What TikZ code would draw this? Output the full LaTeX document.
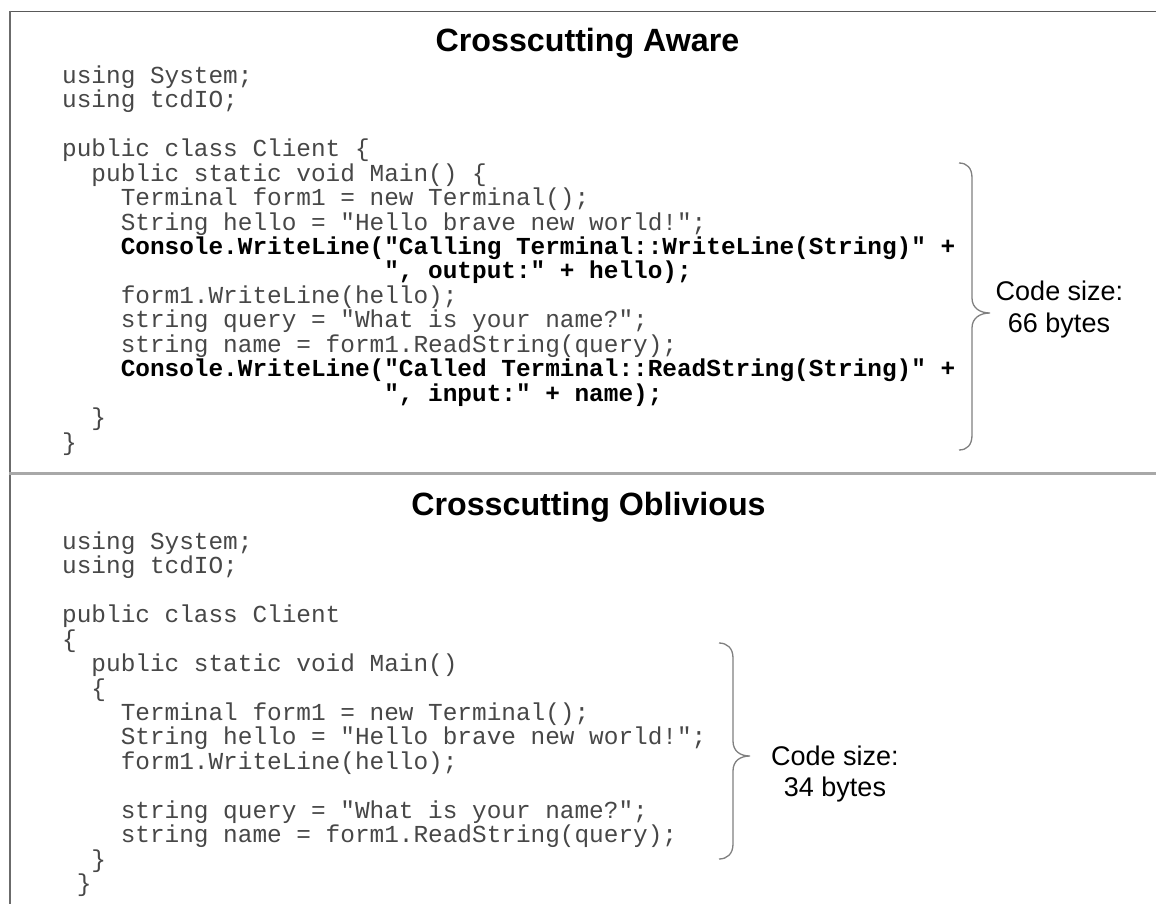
\documentclass[tikz,border=0pt]{standalone}
\usepackage{fontspec}
\setmainfont{Liberation Sans}
\newfontfamily\codefont{Liberation Mono}

% layout constants (pt): left edge of code column, character width, line pitch
\def\cx{62}
\def\colw{14.64}
\def\lp{24.45}
\def\ta{83.3}   % first baseline of the upper listing
\def\ba{549.3}  % first baseline of the lower listing

\tikzset{
  code/.style={anchor=base west, inner sep=0pt, text=black!72,
    font=\codefont\fontsize{24.4}{24.45}\selectfont},
  codeb/.style={code, text=black,
    font=\codefont\bfseries\fontsize{24.4}{24.45}\selectfont},
  heading/.style={anchor=base, inner sep=0pt,
    font=\bfseries\fontsize{32.2}{36}\selectfont},
  sizelabel/.style={anchor=base, inner sep=0pt,
    font=\fontsize{27}{32}\selectfont},
  brace/.style={draw=black!50, line width=1.3pt},
  frame/.style={line width=1.8pt}
}

\begin{document}
\begin{tikzpicture}[x=1pt, y=-1pt]
\useasboundingbox (0,0) rectangle (1156,904);
\fill[white] (0,0) rectangle (1156,904);

% frame and divider
\draw[frame, draw=black!65] (9,11.5) -- (1156,11.5);
\draw[frame, draw=black!58] (9.8,11) -- (9.8,904);
\draw[line width=2.3pt, draw=black!34] (9,473.6) -- (1156,473.6);

% ---------- upper listing ----------
\node[heading] (h1) at (587.5,51.7) {Crosscutting Aware};

\node[code]  (t0)  at ({\cx+0*\colw},{\ta+0*\lp})  {using System;};
\node[code]  (t1)  at ({\cx+0*\colw},{\ta+1*\lp})  {using tcdIO;};
\node[code]  (t3)  at ({\cx+0*\colw},{\ta+3*\lp})  {public class Client \{};
\node[code]  (t4)  at ({\cx+2*\colw},{\ta+4*\lp})  {public static void Main() \{};
\node[code]  (t5)  at ({\cx+4*\colw},{\ta+5*\lp})  {Terminal form1 = new Terminal();};
\node[code]  (t6)  at ({\cx+4*\colw},{\ta+6*\lp})  {String hello = "Hello brave new world!";};
\node[codeb] (t7)  at ({\cx+4*\colw},{\ta+7*\lp})  {Console.WriteLine("Calling Terminal::WriteLine(String)" +};
\node[codeb] (t8)  at ({\cx+22*\colw},{\ta+8*\lp}) {", output:" + hello);};
\node[code]  (t9)  at ({\cx+4*\colw},{\ta+9*\lp})  {form1.WriteLine(hello);};
\node[code]  (t10) at ({\cx+4*\colw},{\ta+10*\lp}) {string query = "What is your name?";};
\node[code]  (t11) at ({\cx+4*\colw},{\ta+11*\lp}) {string name = form1.ReadString(query);};
\node[codeb] (t12) at ({\cx+4*\colw},{\ta+12*\lp}) {Console.WriteLine("Called Terminal::ReadString(String)" +};
\node[codeb] (t13) at ({\cx+22*\colw},{\ta+13*\lp}) {", input:" + name);};
\node[code]  (t14) at ({\cx+2*\colw},{\ta+14*\lp}) {\}};
\node[code]  (t15) at ({\cx+0*\colw},{\ta+15*\lp}) {\}};

% brace and size note
\coordinate (ua) at (959,163);
\coordinate (ub) at (959,450);
\coordinate (ut) at (990,313);
\draw[brace] (ua) .. controls (967,163) and (972,168) .. (972,178)
  -- (972,298) .. controls (972,308) and (980,313) .. (ut)
  .. controls (980,313) and (972,318) .. (972,328)
  -- (972,435) .. controls (972,445) and (967,450) .. (ub);
\node[sizelabel] (us1) at (1059.5,300) {Code size:};
\node[sizelabel] (us2) at (1059,332) {66 bytes};

% ---------- lower listing ----------
\node[heading] (h2) at (588.5,515) {Crosscutting Oblivious};

\node[code] (b0)  at ({\cx+0*\colw},{\ba+0*\lp})  {using System;};
\node[code] (b1)  at ({\cx+0*\colw},{\ba+1*\lp})  {using tcdIO;};
\node[code] (b3)  at ({\cx+0*\colw},{\ba+3*\lp})  {public class Client};
\node[code] (b4)  at ({\cx+0*\colw},{\ba+4*\lp})  {\{};
\node[code] (b5)  at ({\cx+2*\colw},{\ba+5*\lp})  {public static void Main()};
\node[code] (b6)  at ({\cx+2*\colw},{\ba+6*\lp})  {\{};
\node[code] (b7)  at ({\cx+4*\colw},{\ba+7*\lp})  {Terminal form1 = new Terminal();};
\node[code] (b8)  at ({\cx+4*\colw},{\ba+8*\lp})  {String hello = "Hello brave new world!";};
\node[code] (b9)  at ({\cx+4*\colw},{\ba+9*\lp})  {form1.WriteLine(hello);};
\node[code] (b11) at ({\cx+4*\colw},{\ba+11*\lp}) {string query = "What is your name?";};
\node[code] (b12) at ({\cx+4*\colw},{\ba+12*\lp}) {string name = form1.ReadString(query);};
\node[code] (b13) at ({\cx+2*\colw},{\ba+13*\lp}) {\}};
\node[code] (b14) at ({\cx+1*\colw},{\ba+14*\lp}) {\}};

\coordinate (la) at (719,643);
\coordinate (lb) at (719,859);
\coordinate (lt) at (750,756);
\draw[brace] (la) .. controls (727,643) and (733,648) .. (733,658)
  -- (733,741) .. controls (733,751) and (740,756) .. (lt)
  .. controls (740,756) and (733,761) .. (733,771)
  -- (733,844) .. controls (733,854) and (727,859) .. (lb);
\node[sizelabel] (ls1) at (835,765) {Code size:};
\node[sizelabel] (ls2) at (835,796) {34 bytes};
\end{tikzpicture}
\end{document}
